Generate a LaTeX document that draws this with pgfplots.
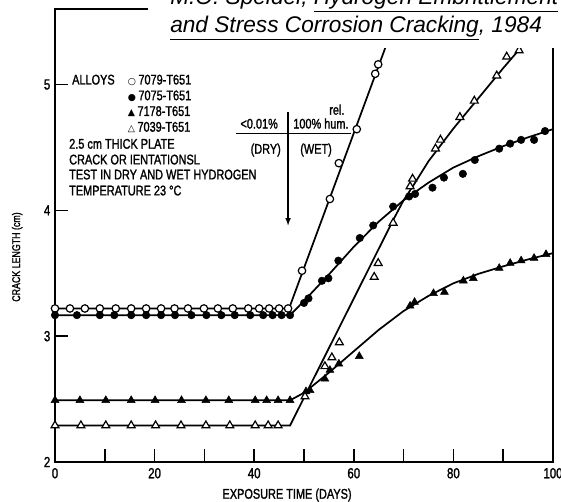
\documentclass[border=0pt]{standalone}
\usepackage{fontspec}
\setmainfont{Liberation Sans}[FakeStretch=0.78, FakeBold=1.4]
\newfontfamily\titlefont{Liberation Sans}
\newfontfamily\sym{DejaVu Sans}
\usepackage{pgfplots}
\usepackage{pgfplotstable}
\pgfplotsset{compat=1.18}
\usetikzlibrary{calc}

\newcommand\lab{\fontsize{10.5}{12}\selectfont}

% open circles
\pgfplotstableread{
x y
0 3.22
3 3.22
6 3.22
9 3.22
12.2 3.22
15.3 3.22
18.3 3.22
21.3 3.22
24 3.22
26.7 3.22
29.9 3.22
32.7 3.22
35.7 3.22
38.8 3.22
41 3.22
43 3.22
45 3.22
46.8 3.22
49.6 3.52
55.2 4.09
57.0 4.375
60.6 4.645
64.3 5.085
64.9 5.16
}\alloyA
\pgfplotstableread{
x y
0 3.22
47 3.22
69.2 5.6
}\fitA

% filled circles
\pgfplotstableread{
x y
0 3.167
4.4 3.167
9.0 3.167
11.9 3.167
15.3 3.167
18.3 3.167
21.3 3.167
24.1 3.167
27.4 3.167
30.4 3.167
33.4 3.167
36.1 3.167
39.2 3.167
41.8 3.167
43.7 3.167
45.5 3.167
47.2 3.167
50.0 3.264
50.9 3.30
53.6 3.44
54.9 3.46
56.9 3.60
61.2 3.78
63.9 3.88
67.9 4.03
71.1 4.11
72.3 4.13
75.8 4.18
78.1 4.26
81.9 4.29
84.3 4.40
89.2 4.49
91.4 4.53
93.6 4.56
96.2 4.56
98.4 4.63
}\alloyB
\pgfplotstableread{
x y
0 3.167
47.2 3.167
50 3.28
55 3.49
60 3.71
65 3.91
70 4.08
75 4.22
80 4.34
85 4.43
90 4.51
95 4.58
100 4.645
}\fitB

% filled triangles
\pgfplotstableread{
x y
0 2.49
5 2.49
10.2 2.49
15.3 2.49
20.1 2.49
25.4 2.49
30.3 2.49
34.9 2.49
40.2 2.49
42.5 2.49
44.8 2.49
47.2 2.49
50.4 2.56
51.2 2.57
54.2 2.66
55.2 2.73
57.0 2.78
61.1 2.84
71.3 3.24
72.2 3.27
76.0 3.34
78.2 3.35
82.0 3.44
84.0 3.46
89.2 3.54
91.4 3.58
93.6 3.60
96.2 3.62
98.6 3.65
}\alloyC
\pgfplotstableread{
x y
0 2.49
47.2 2.49
50 2.55
55 2.71
60 2.88
65 3.05
70 3.20
75 3.32
80 3.42
85 3.495
90 3.555
95 3.61
100 3.66
}\fitC

% open triangles
\pgfplotstableread{
x y
0 2.29
5.2 2.29
10.2 2.29
15.3 2.29
20.2 2.29
25.3 2.29
30.3 2.29
35.1 2.29
40.2 2.29
42.8 2.29
44.8 2.29
50.2 2.52
54.2 2.76
55.6 2.83
57.1 2.95
64.1 3.47
64.9 3.58
67.9 3.90
71.3 4.19
71.8 4.25
76.4 4.49
77.4 4.56
81.3 4.74
84.2 4.87
88.7 5.07
90.7 5.22
93.2 5.27
}\alloyD
\pgfplotstableread{
x y
0 2.29
47.2 2.29
68 3.93
70 4.08
72 4.20
75 4.39
80 4.65
85 4.89
90 5.13
95 5.36
100 5.6
}\fitD

\begin{document}
\begin{tikzpicture}
\begin{axis}[
    scale only axis,
    width=373.5pt, height=339.75pt,
    xmin=0, xmax=100, ymin=2, ymax=5.6,
    axis line style={line width=1.7pt},
    xtick={0,10,...,100},
    xticklabels={0,,20,,40,,60,,80,,100},
    ytick={2,3,4,5},
    xtick pos=left, ytick pos=left,
    tick align=inside,
    major tick length=9.5pt,
    tick style={line width=1.2pt, black},
    /pgf/number format/assume math mode=true,
    ticklabel style={font=\fontsize{11}{12}\selectfont},
    xticklabel style={yshift=-1pt},
    xlabel={EXPOSURE TIME (DAYS)},
    ylabel={CRACK LENGTH (cm)},
    xlabel style={font=\lab, at={(axis description cs:0.466,-0.073)}, anchor=center},
    ylabel style={font=\fontsize{8.5}{10}\selectfont, at={(axis description cs:-0.076,0.4525)}, anchor=center},
    clip=true,
]
% fitted curves
\addplot[black, line width=1.3pt] table {\fitA};
\addplot[black, line width=1.3pt] table {\fitB};
\addplot[black, line width=1.3pt] table {\fitC};
\addplot[black, line width=1.3pt] table {\fitD};
% measured points
\addplot[only marks, mark=*, mark size=2.8pt, mark options={draw=black, fill=white, line width=0.9pt}] table {\alloyA};
\addplot[only marks, mark=*, mark size=2.8pt, mark options={draw=black, fill=black}] table {\alloyB};
\addplot[only marks, mark=triangle*, mark size=3.4pt, mark options={draw=black, fill=black}] table {\alloyC};
\addplot[only marks, mark=triangle*, mark size=3.4pt, mark options={draw=black, fill=white, line width=0.9pt}] table {\alloyD};

% legend block
\node[anchor=base west, inner sep=0pt, font=\lab] at (axis cs:3.4,5.0) {ALLOYS};
\node[anchor=base west, inner sep=0pt, font=\lab] at (axis cs:14.6,5.0) {{\sym\fontsize{7}{7}\selectfont ○}\,7079-T651};
\node[anchor=base west, inner sep=0pt, font=\lab] at (axis cs:14.6,4.875) {{\sym\fontsize{7}{7}\selectfont ●}\,7075-T651};
\node[anchor=base west, inner sep=0pt, font=\lab] at (axis cs:14.6,4.75) {{\sym\fontsize{7}{7}\selectfont ▲}\,7178-T651};
\node[anchor=base west, inner sep=0pt, font=\lab] at (axis cs:14.6,4.625) {{\sym\fontsize{7}{7}\selectfont △}\,7039-T651};
\node[anchor=base west, inner sep=0pt, font=\lab] at (axis cs:2.8,4.49) {2.5 cm THICK PLATE};
\node[anchor=base west, inner sep=0pt, font=\lab] at (axis cs:2.8,4.365) {CRACK OR IENTATIONSL};
\node[anchor=base west, inner sep=0pt, font=\lab] at (axis cs:2.8,4.246) {TEST IN DRY AND WET HYDROGEN};
\node[anchor=base west, inner sep=0pt, font=\lab] at (axis cs:2.8,4.119) {TEMPERATURE 23 °C};

% dry / wet marker
\draw[line width=0.9pt, -latex] (axis cs:46.8,4.78) -- (axis cs:46.8,3.88);
\draw[line width=0.9pt] (axis cs:36.3,4.61) -- (axis cs:59.4,4.61);
\node[anchor=base east, inner sep=0pt, font=\lab] at (axis cs:44.8,4.65) {\textless0.01\%};
\node[anchor=base, inner sep=0pt, font=\lab] at (axis cs:56.6,4.76) {rel.};
\node[anchor=base west, inner sep=0pt, font=\lab] at (axis cs:47.8,4.65) {100\% hum.};
\node[anchor=base east, inner sep=0pt, font=\lab] at (axis cs:45.4,4.45) {(DRY)};
\node[anchor=base west, inner sep=0pt, font=\lab] at (axis cs:49.2,4.45) {(WET)};
\end{axis}

% citation over the top of the frame
\fill[white] ($(current axis.north west)+(69.75pt,12pt)$) rectangle ($(current axis.north west)+(390pt,-29.25pt)$);
\node[anchor=base west, inner sep=0pt, font={\titlefont\itshape\fontsize{17}{20}\selectfont}]
  at ($(current axis.north west)+(86.25pt,3pt)$) {M.O. Speidel, \underline{Hydrogen Embrittlement}};
\node[anchor=base west, inner sep=0pt, font={\titlefont\itshape\fontsize{17}{20}\selectfont}]
  at ($(current axis.north west)+(86.25pt,-18pt)$) {\underline{and Stress Corrosion Cracking}, 1984};

\pgfresetboundingbox
\path[use as bounding box] ($(current axis.south west)+(-41.25pt,-30pt)$) rectangle ($(current axis.north east)+(6pt,6.75pt)$);
\end{tikzpicture}
\end{document}
